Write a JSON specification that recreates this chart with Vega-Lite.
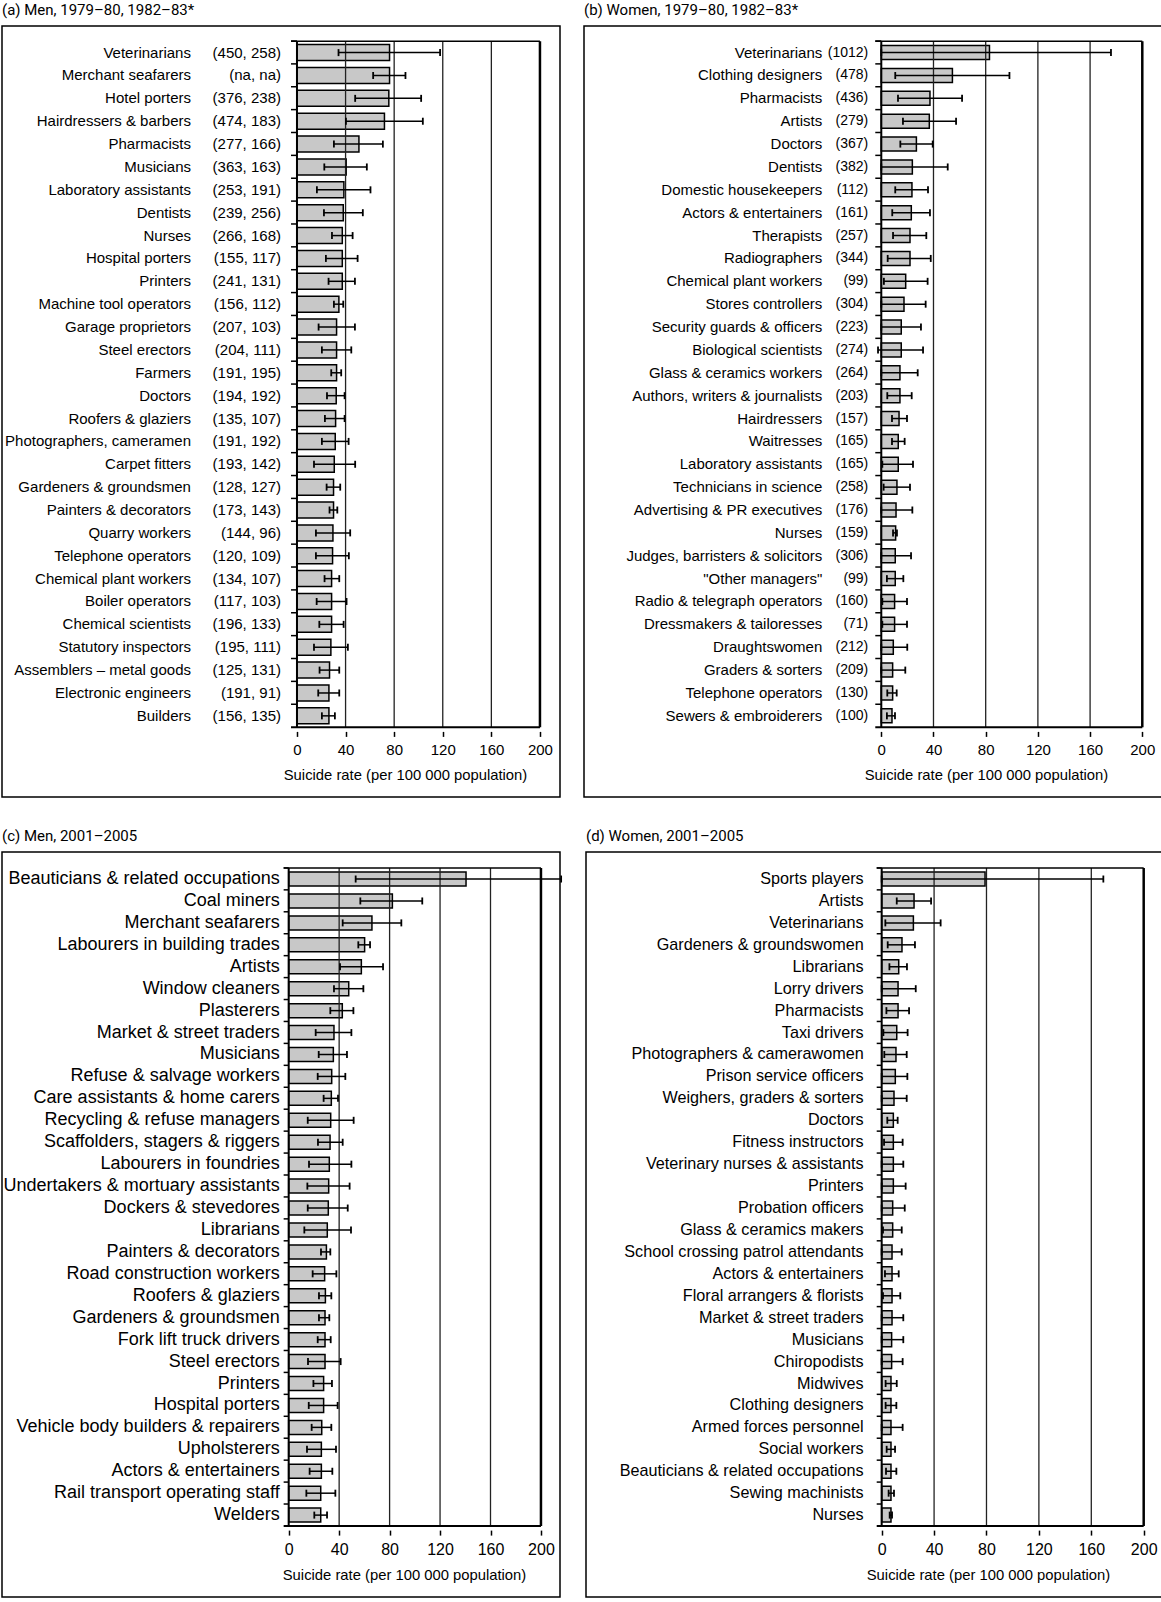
{
"$schema": "https://vega.github.io/schema/vega-lite/v6.json",
"padding": {"left": 1, "top": 2, "right": 0, "bottom": 0},
"background": "white",
"config": {
  "view": {"stroke": "black", "strokeWidth": 1.5},
  "font": "Liberation Sans",
  "title": {"font": "Roboto", "fontSize": 15, "fontWeight": "normal", "anchor": "start", "offset": 8, "color": "black"},
  "axis": {"domain": false, "grid": false, "tickColor": "black", "tickWidth": 1.5, "tickSize": 5, "labelColor": "black", "labelFont": "Liberation Sans", "labelPadding": 6, "labelFlush": false, "labelOverlap": false, "titleColor": "black", "titleFont": "Liberation Sans", "titleFontWeight": "normal", "titlePadding": 10, "titleAlign": "center", "zindex": 1}
},
"datasets": {
"a": [
{"rank":1,"name":"Veterinarians","n":"(450, 258)","v":76.2,"lo":34.2,"hi":117.8},
{"rank":2,"name":"Merchant seafarers","n":"(na, na)","v":76.2,"lo":62.7,"hi":89.3},
{"rank":3,"name":"Hotel porters","n":"(376, 238)","v":75.6,"lo":47.9,"hi":102.2},
{"rank":4,"name":"Hairdressers & barbers","n":"(474, 183)","v":72.0,"lo":40.3,"hi":103.6},
{"rank":5,"name":"Pharmacists","n":"(277, 166)","v":51.0,"lo":30.4,"hi":70.7},
{"rank":6,"name":"Musicians","n":"(363, 163)","v":40.5,"lo":22.5,"hi":57.5},
{"rank":7,"name":"Laboratory assistants","n":"(253, 191)","v":38.6,"lo":16.4,"hi":60.5},
{"rank":8,"name":"Dentists","n":"(239, 256)","v":38.1,"lo":22.2,"hi":54.2},
{"rank":9,"name":"Nurses","n":"(266, 168)","v":37.3,"lo":28.8,"hi":45.8},
{"rank":10,"name":"Hospital porters","n":"(155, 117)","v":37.3,"lo":23.8,"hi":49.9},
{"rank":11,"name":"Printers","n":"(241, 131)","v":37.3,"lo":26.0,"hi":47.7},
{"rank":12,"name":"Machine tool operators","n":"(156, 112)","v":34.5,"lo":30.4,"hi":38.1},
{"rank":13,"name":"Garage proprietors","n":"(207, 103)","v":32.6,"lo":17.8,"hi":47.7},
{"rank":14,"name":"Steel erectors","n":"(204, 111)","v":32.6,"lo":20.5,"hi":44.7},
{"rank":15,"name":"Farmers","n":"(191, 195)","v":32.6,"lo":28.2,"hi":36.4},
{"rank":16,"name":"Doctors","n":"(194, 192)","v":32.3,"lo":24.7,"hi":39.2},
{"rank":17,"name":"Roofers & glaziers","n":"(135, 107)","v":31.8,"lo":23.0,"hi":39.2},
{"rank":18,"name":"Photographers, cameramen","n":"(191, 192)","v":31.5,"lo":20.5,"hi":42.5},
{"rank":19,"name":"Carpet fitters","n":"(193, 142)","v":30.7,"lo":14.0,"hi":47.9},
{"rank":20,"name":"Gardeners & groundsmen","n":"(128, 127)","v":30.1,"lo":24.4,"hi":35.6},
{"rank":21,"name":"Painters & decorators","n":"(173, 143)","v":30.1,"lo":26.8,"hi":33.2},
{"rank":22,"name":"Quarry workers","n":"(144, 96)","v":29.6,"lo":15.6,"hi":43.8},
{"rank":23,"name":"Telephone operators","n":"(120, 109)","v":29.3,"lo":15.6,"hi":42.7},
{"rank":24,"name":"Chemical plant workers","n":"(134, 107)","v":28.5,"lo":22.7,"hi":34.8},
{"rank":25,"name":"Boiler operators","n":"(117, 103)","v":28.5,"lo":16.2,"hi":40.8},
{"rank":26,"name":"Chemical scientists","n":"(196, 133)","v":28.5,"lo":18.4,"hi":38.4},
{"rank":27,"name":"Statutory inspectors","n":"(195, 111)","v":27.9,"lo":14.0,"hi":41.9},
{"rank":28,"name":"Assemblers – metal goods","n":"(125, 131)","v":26.8,"lo":18.6,"hi":34.8},
{"rank":29,"name":"Electronic engineers","n":"(191, 91)","v":26.3,"lo":17.5,"hi":34.8},
{"rank":30,"name":"Builders","n":"(156, 135)","v":26.3,"lo":20.5,"hi":31.2}
],
"b": [
{"rank":1,"name":"Veterinarians","n":"(1012)","v":82.9,"lo":0,"hi":176.0},
{"rank":2,"name":"Clothing designers","n":"(478)","v":54.5,"lo":10.7,"hi":98.2},
{"rank":3,"name":"Pharmacists","n":"(436)","v":37.3,"lo":12.8,"hi":61.9},
{"rank":4,"name":"Artists","n":"(279)","v":36.8,"lo":16.6,"hi":57.3},
{"rank":5,"name":"Doctors","n":"(367)","v":26.9,"lo":14.6,"hi":39.4},
{"rank":6,"name":"Dentists","n":"(382)","v":23.8,"lo":0,"hi":50.9},
{"rank":7,"name":"Domestic housekeepers","n":"(112)","v":23.5,"lo":10.7,"hi":35.8},
{"rank":8,"name":"Actors & entertainers","n":"(161)","v":23.0,"lo":8.4,"hi":37.3},
{"rank":9,"name":"Therapists","n":"(257)","v":22.0,"lo":9.0,"hi":34.5},
{"rank":10,"name":"Radiographers","n":"(344)","v":22.0,"lo":4.9,"hi":37.9},
{"rank":11,"name":"Chemical plant workers","n":"(99)","v":18.7,"lo":2.0,"hi":35.5},
{"rank":12,"name":"Stores controllers","n":"(304)","v":17.4,"lo":0,"hi":34.0},
{"rank":13,"name":"Security guards & officers","n":"(223)","v":15.3,"lo":0,"hi":30.4},
{"rank":14,"name":"Biological scientists","n":"(274)","v":15.3,"lo":-2.5,"hi":32.0},
{"rank":15,"name":"Glass & ceramics workers","n":"(264)","v":14.3,"lo":0,"hi":27.9},
{"rank":16,"name":"Authors, writers & journalists","n":"(203)","v":14.3,"lo":4.6,"hi":23.3},
{"rank":17,"name":"Hairdressers","n":"(157)","v":13.6,"lo":8.2,"hi":19.7},
{"rank":18,"name":"Waitresses","n":"(165)","v":13.0,"lo":8.2,"hi":17.9},
{"rank":19,"name":"Laboratory assistants","n":"(165)","v":13.0,"lo":0.8,"hi":24.3},
{"rank":20,"name":"Technicians in science","n":"(258)","v":12.0,"lo":1.8,"hi":22.0},
{"rank":21,"name":"Advertising & PR executives","n":"(176)","v":11.3,"lo":0,"hi":23.8},
{"rank":22,"name":"Nurses","n":"(159)","v":11.0,"lo":9.0,"hi":12.0},
{"rank":23,"name":"Judges, barristers & solicitors","n":"(306)","v":10.7,"lo":0,"hi":22.8},
{"rank":24,"name":"\"Other managers\"","n":"(99)","v":10.7,"lo":4.3,"hi":16.9},
{"rank":25,"name":"Radio & telegraph operators","n":"(160)","v":10.2,"lo":0.8,"hi":19.7},
{"rank":26,"name":"Dressmakers & tailoresses","n":"(71)","v":10.2,"lo":0.8,"hi":19.7},
{"rank":27,"name":"Draughtswomen","n":"(212)","v":9.2,"lo":0,"hi":19.9},
{"rank":28,"name":"Graders & sorters","n":"(209)","v":8.7,"lo":0,"hi":18.4},
{"rank":29,"name":"Telephone operators","n":"(130)","v":8.7,"lo":4.6,"hi":11.8},
{"rank":30,"name":"Sewers & embroiderers","n":"(100)","v":8.2,"lo":4.3,"hi":10.5}
],
"c": [
{"rank":1,"name":"Beauticians & related occupations","v":140.6,"lo":53.1,"hi":216},
{"rank":2,"name":"Coal miners","v":82.2,"lo":56.8,"hi":105.9},
{"rank":3,"name":"Merchant seafarers","v":66.0,"lo":42.8,"hi":89.3},
{"rank":4,"name":"Labourers in building trades","v":60.2,"lo":55.2,"hi":64.5},
{"rank":5,"name":"Artists","v":57.6,"lo":40.7,"hi":74.8},
{"rank":6,"name":"Window cleaners","v":47.6,"lo":35.9,"hi":59.2},
{"rank":7,"name":"Plasterers","v":42.5,"lo":33.0,"hi":51.3},
{"rank":8,"name":"Market & street traders","v":35.9,"lo":21.4,"hi":49.7},
{"rank":9,"name":"Musicians","v":35.4,"lo":23.8,"hi":46.2},
{"rank":10,"name":"Refuse & salvage workers","v":34.1,"lo":23.0,"hi":44.9},
{"rank":11,"name":"Care assistants & home carers","v":33.8,"lo":27.7,"hi":39.1},
{"rank":12,"name":"Recycling & refuse managers","v":33.3,"lo":15.1,"hi":51.5},
{"rank":13,"name":"Scaffolders, stagers & riggers","v":32.8,"lo":23.2,"hi":42.8},
{"rank":14,"name":"Labourers in foundries","v":32.2,"lo":16.1,"hi":49.7},
{"rank":15,"name":"Undertakers & mortuary assistants","v":31.7,"lo":14.8,"hi":48.3},
{"rank":16,"name":"Dockers & stevedores","v":31.4,"lo":15.1,"hi":46.8},
{"rank":17,"name":"Librarians","v":30.6,"lo":12.4,"hi":49.4},
{"rank":18,"name":"Painters & decorators","v":29.9,"lo":25.6,"hi":33.0},
{"rank":19,"name":"Road construction workers","v":28.5,"lo":19.0,"hi":37.8},
{"rank":20,"name":"Roofers & glaziers","v":29.1,"lo":24.0,"hi":33.8},
{"rank":21,"name":"Gardeners & groundsmen","v":28.8,"lo":24.0,"hi":32.2},
{"rank":22,"name":"Fork lift truck drivers","v":28.8,"lo":23.0,"hi":33.3},
{"rank":23,"name":"Steel erectors","v":28.8,"lo":15.3,"hi":41.2},
{"rank":24,"name":"Printers","v":27.7,"lo":19.6,"hi":34.3},
{"rank":25,"name":"Hospital porters","v":27.7,"lo":15.9,"hi":38.8},
{"rank":26,"name":"Vehicle body builders & repairers","v":26.2,"lo":18.2,"hi":33.8},
{"rank":27,"name":"Upholsterers","v":25.9,"lo":14.5,"hi":37.5},
{"rank":28,"name":"Actors & entertainers","v":25.9,"lo":16.6,"hi":34.6},
{"rank":29,"name":"Rail transport operating staff","v":25.4,"lo":14.0,"hi":37.0},
{"rank":30,"name":"Welders","v":25.4,"lo":20.3,"hi":30.4}
],
"d": [
{"rank":1,"name":"Sports players","v":78.9,"lo":0,"hi":169.2},
{"rank":2,"name":"Artists","v":24.7,"lo":11.5,"hi":37.7},
{"rank":3,"name":"Veterinarians","v":24.2,"lo":2.8,"hi":45.0},
{"rank":4,"name":"Gardeners & groundswomen","v":15.5,"lo":4.6,"hi":25.4},
{"rank":5,"name":"Librarians","v":13.0,"lo":5.9,"hi":19.3},
{"rank":6,"name":"Lorry drivers","v":12.5,"lo":0,"hi":26.0},
{"rank":7,"name":"Pharmacists","v":12.5,"lo":3.6,"hi":20.9},
{"rank":8,"name":"Taxi drivers","v":11.5,"lo":1.3,"hi":19.8},
{"rank":9,"name":"Photographers & camerawomen","v":10.9,"lo":2.0,"hi":19.1},
{"rank":10,"name":"Prison service officers","v":10.4,"lo":0,"hi":19.6},
{"rank":11,"name":"Weighers, graders & sorters","v":9.4,"lo":0,"hi":19.1},
{"rank":12,"name":"Doctors","v":8.9,"lo":4.3,"hi":12.2},
{"rank":13,"name":"Fitness instructors","v":8.9,"lo":1.8,"hi":16.0},
{"rank":14,"name":"Veterinary nurses & assistants","v":8.9,"lo":0,"hi":16.5},
{"rank":15,"name":"Printers","v":8.9,"lo":0,"hi":18.3},
{"rank":16,"name":"Probation officers","v":8.4,"lo":0,"hi":17.6},
{"rank":17,"name":"Glass & ceramics makers","v":8.4,"lo":1.0,"hi":15.3},
{"rank":18,"name":"School crossing patrol attendants","v":7.9,"lo":0,"hi":15.3},
{"rank":19,"name":"Actors & entertainers","v":7.9,"lo":2.5,"hi":13.0},
{"rank":20,"name":"Floral arrangers & florists","v":7.9,"lo":1.0,"hi":14.2},
{"rank":21,"name":"Market & street traders","v":7.9,"lo":0,"hi":16.5},
{"rank":22,"name":"Musicians","v":7.6,"lo":0,"hi":16.5},
{"rank":23,"name":"Chiropodists","v":7.6,"lo":0,"hi":16.0},
{"rank":24,"name":"Midwives","v":7.1,"lo":3.0,"hi":11.5},
{"rank":25,"name":"Clothing designers","v":7.1,"lo":3.0,"hi":11.2},
{"rank":26,"name":"Armed forces personnel","v":7.1,"lo":0,"hi":16.0},
{"rank":27,"name":"Social workers","v":7.1,"lo":3.8,"hi":10.2},
{"rank":28,"name":"Beauticians & related occupations","v":7.1,"lo":3.3,"hi":11.2},
{"rank":29,"name":"Sewing machinists","v":7.1,"lo":5.3,"hi":9.4},
{"rank":30,"name":"Nurses","v":7.1,"lo":6.1,"hi":7.9}
],
"grid": [{"g":40},{"g":80},{"g":120},{"g":160}],
"one": [{"k":1}]
},
"spacing": 30,
"vconcat": [
{"spacing": 22, "hconcat": [
{
"width": 558, "height": 771,
"title": {"text": "(a) Men, 1979–80, 1982–83*"},
"data": {"name": "a"},
"layer": [
{"mark": {"type": "bar", "orient": "horizontal", "size": 16, "fill": "#c8c8c8", "stroke": "black", "strokeWidth": 1.5},
 "encoding": {
  "x": {"field": "v", "type": "quantitative", "scale": {"domain": [-242.8, 216.5], "nice": false, "zero": false},
        "axis": {"values": [0,40,80,120,160,200], "offset": -65.6, "labelFontSize": 15, "title": "Suicide rate (per 100 000 population)", "titleFontSize": 14.8, "titleX": 403}},
  "x2": {"datum": 0},
  "y": {"field": "rank", "type": "quantitative", "scale": {"domain": [0.055, 33.33], "reverse": true, "nice": false, "zero": false}, "axis": null}}},
{"data": {"name": "grid"}, "mark": {"type": "rule", "stroke": "#222", "strokeWidth": 1.3}, "encoding": {"x": {"field": "g", "type": "quantitative"}, "y": {"datum": 0.5, "type": "quantitative", "axis": null}, "y2": {"datum": 30.5}}},
{"mark": {"type": "rule", "stroke": "black", "strokeWidth": 1.5}, "encoding": {"x": {"field": "lo", "type": "quantitative"}, "x2": {"field": "hi"}, "y": {"field": "rank", "type": "quantitative", "axis": null}}},
{"mark": {"type": "tick", "orient": "vertical", "size": 7, "thickness": 1.8, "color": "black", "opacity": 1}, "encoding": {"x": {"field": "lo", "type": "quantitative"}, "y": {"field": "rank", "type": "quantitative", "axis": null}}},
{"mark": {"type": "tick", "orient": "vertical", "size": 7, "thickness": 1.8, "color": "black", "opacity": 1}, "encoding": {"x": {"field": "hi", "type": "quantitative"}, "y": {"field": "rank", "type": "quantitative", "axis": null}}},
{"mark": {"type": "rule", "stroke": "black", "strokeWidth": 1.5, "yOffset": -11.6}, "encoding": {"x": {"datum": -4.9, "type": "quantitative"}, "x2": {"datum": 0}, "y": {"field": "rank", "type": "quantitative", "axis": null}}},
{"data": {"name": "one"}, "mark": {"type": "rule", "stroke": "black", "strokeWidth": 1.5}, "encoding": {"x": {"datum": -4.9, "type": "quantitative"}, "x2": {"datum": 200}, "y": {"datum": 0.5, "type": "quantitative", "axis": null}}},
{"data": {"name": "one"}, "mark": {"type": "rule", "stroke": "black", "strokeWidth": 2}, "encoding": {"x": {"datum": -4.9, "type": "quantitative"}, "x2": {"datum": 200}, "y": {"datum": 30.5, "type": "quantitative", "axis": null}}},
{"data": {"name": "one"}, "mark": {"type": "rule", "stroke": "black", "strokeWidth": 2}, "encoding": {"x": {"datum": 0, "type": "quantitative"}, "y": {"datum": 0.5, "type": "quantitative", "axis": null}, "y2": {"datum": 30.5}}},
{"data": {"name": "one"}, "mark": {"type": "rule", "stroke": "black", "strokeWidth": 2.5}, "encoding": {"x": {"datum": 200, "type": "quantitative"}, "y": {"datum": 0.5, "type": "quantitative", "axis": null}, "y2": {"datum": 30.5}}},
{"mark": {"type": "text", "align": "right", "baseline": "middle", "dx": -106, "fontSize": 15, "color": "black"}, "encoding": {"x": {"datum": 0, "type": "quantitative"}, "y": {"field": "rank", "type": "quantitative", "axis": null}, "text": {"field": "name"}}},
{"mark": {"type": "text", "align": "right", "baseline": "middle", "dx": -16, "fontSize": 15, "color": "black"}, "encoding": {"x": {"datum": 0, "type": "quantitative"}, "y": {"field": "rank", "type": "quantitative", "axis": null}, "text": {"field": "n"}}}
]
},
{
"width": 578, "height": 771,
"title": {"text": "(b)  Women, 1979–80, 1982–83*"},
"data": {"name": "b"},
"layer": [
{"mark": {"type": "bar", "orient": "horizontal", "size": 14, "fill": "#c8c8c8", "stroke": "black", "strokeWidth": 1.5},
 "encoding": {
  "x": {"field": "v", "type": "quantitative", "scale": {"domain": [-227.8, 215.1], "nice": false, "zero": false},
        "axis": {"values": [0,40,80,120,160,200], "offset": -65.6, "labelFontSize": 15, "title": "Suicide rate (per 100 000 population)", "titleFontSize": 14.8, "titleX": 402}},
  "x2": {"datum": 0},
  "y": {"field": "rank", "type": "quantitative", "scale": {"domain": [0.055, 33.33], "reverse": true, "nice": false, "zero": false}, "axis": null}}},
{"data": {"name": "grid"}, "mark": {"type": "rule", "stroke": "#222", "strokeWidth": 1.3}, "encoding": {"x": {"field": "g", "type": "quantitative"}, "y": {"datum": 0.5, "type": "quantitative", "axis": null}, "y2": {"datum": 30.5}}},
{"mark": {"type": "rule", "stroke": "black", "strokeWidth": 1.5}, "encoding": {"x": {"field": "lo", "type": "quantitative"}, "x2": {"field": "hi"}, "y": {"field": "rank", "type": "quantitative", "axis": null}}},
{"mark": {"type": "tick", "orient": "vertical", "size": 7, "thickness": 1.8, "color": "black", "opacity": 1}, "encoding": {"x": {"field": "lo", "type": "quantitative"}, "y": {"field": "rank", "type": "quantitative", "axis": null}}},
{"mark": {"type": "tick", "orient": "vertical", "size": 7, "thickness": 1.8, "color": "black", "opacity": 1}, "encoding": {"x": {"field": "hi", "type": "quantitative"}, "y": {"field": "rank", "type": "quantitative", "axis": null}}},
{"mark": {"type": "rule", "stroke": "black", "strokeWidth": 1.5, "yOffset": -11.6}, "encoding": {"x": {"datum": -4.6, "type": "quantitative"}, "x2": {"datum": 0}, "y": {"field": "rank", "type": "quantitative", "axis": null}}},
{"data": {"name": "one"}, "mark": {"type": "rule", "stroke": "black", "strokeWidth": 1.5}, "encoding": {"x": {"datum": -4.6, "type": "quantitative"}, "x2": {"datum": 200}, "y": {"datum": 0.5, "type": "quantitative", "axis": null}}},
{"data": {"name": "one"}, "mark": {"type": "rule", "stroke": "black", "strokeWidth": 2}, "encoding": {"x": {"datum": -4.6, "type": "quantitative"}, "x2": {"datum": 200}, "y": {"datum": 30.5, "type": "quantitative", "axis": null}}},
{"data": {"name": "one"}, "mark": {"type": "rule", "stroke": "black", "strokeWidth": 2}, "encoding": {"x": {"datum": 0, "type": "quantitative"}, "y": {"datum": 0.5, "type": "quantitative", "axis": null}, "y2": {"datum": 30.5}}},
{"data": {"name": "one"}, "mark": {"type": "rule", "stroke": "black", "strokeWidth": 2.5}, "encoding": {"x": {"datum": 200, "type": "quantitative"}, "y": {"datum": 0.5, "type": "quantitative", "axis": null}, "y2": {"datum": 30.5}}},
{"mark": {"type": "text", "align": "right", "baseline": "middle", "dx": -59, "fontSize": 15, "color": "black"}, "encoding": {"x": {"datum": 0, "type": "quantitative"}, "y": {"field": "rank", "type": "quantitative", "axis": null}, "text": {"field": "name"}}},
{"mark": {"type": "text", "align": "right", "baseline": "middle", "dx": -13, "fontSize": 14, "color": "black"}, "encoding": {"x": {"datum": 0, "type": "quantitative"}, "y": {"field": "rank", "type": "quantitative", "axis": null}, "text": {"field": "n"}}}
]
}
]},
{"spacing": 22, "hconcat": [
{
"width": 558, "height": 745,
"title": {"text": "(c) Men, 2001–2005"},
"data": {"name": "c"},
"layer": [
{"mark": {"type": "bar", "orient": "horizontal", "size": 14, "fill": "#c8c8c8", "stroke": "black", "strokeWidth": 1.5},
 "encoding": {
  "x": {"field": "v", "type": "quantitative", "scale": {"domain": [-227.3, 215.1], "nice": false, "zero": false},
        "axis": {"values": [0,40,80,120,160,200], "offset": -66.9, "labelFontSize": 16, "title": "Suicide rate (per 100 000 population)", "titleFontSize": 14.8, "titleX": 402}},
  "x2": {"datum": 0},
  "y": {"field": "rank", "type": "quantitative", "scale": {"domain": [-0.004, 33.505], "reverse": true, "nice": false, "zero": false}, "axis": null}}},
{"data": {"name": "grid"}, "mark": {"type": "rule", "stroke": "#222", "strokeWidth": 1.3}, "encoding": {"x": {"field": "g", "type": "quantitative"}, "y": {"datum": 0.5, "type": "quantitative", "axis": null}, "y2": {"datum": 30.5}}},
{"mark": {"type": "rule", "stroke": "black", "strokeWidth": 1.5}, "encoding": {"x": {"field": "lo", "type": "quantitative"}, "x2": {"field": "hi"}, "y": {"field": "rank", "type": "quantitative", "axis": null}}},
{"mark": {"type": "tick", "orient": "vertical", "size": 7, "thickness": 1.8, "color": "black", "opacity": 1}, "encoding": {"x": {"field": "lo", "type": "quantitative"}, "y": {"field": "rank", "type": "quantitative", "axis": null}}},
{"mark": {"type": "tick", "orient": "vertical", "size": 7, "thickness": 1.8, "color": "black", "opacity": 1}, "encoding": {"x": {"field": "hi", "type": "quantitative"}, "y": {"field": "rank", "type": "quantitative", "axis": null}}},
{"mark": {"type": "rule", "stroke": "black", "strokeWidth": 1.5, "yOffset": -11.1}, "encoding": {"x": {"datum": -4, "type": "quantitative"}, "x2": {"datum": 0}, "y": {"field": "rank", "type": "quantitative", "axis": null}}},
{"data": {"name": "one"}, "mark": {"type": "rule", "stroke": "black", "strokeWidth": 1.5}, "encoding": {"x": {"datum": -4, "type": "quantitative"}, "x2": {"datum": 200}, "y": {"datum": 0.5, "type": "quantitative", "axis": null}}},
{"data": {"name": "one"}, "mark": {"type": "rule", "stroke": "black", "strokeWidth": 2}, "encoding": {"x": {"datum": -4, "type": "quantitative"}, "x2": {"datum": 200}, "y": {"datum": 30.5, "type": "quantitative", "axis": null}}},
{"data": {"name": "one"}, "mark": {"type": "rule", "stroke": "black", "strokeWidth": 2}, "encoding": {"x": {"datum": 0, "type": "quantitative"}, "y": {"datum": 0.5, "type": "quantitative", "axis": null}, "y2": {"datum": 30.5}}},
{"data": {"name": "one"}, "mark": {"type": "rule", "stroke": "black", "strokeWidth": 2.5}, "encoding": {"x": {"datum": 200, "type": "quantitative"}, "y": {"datum": 0.5, "type": "quantitative", "axis": null}, "y2": {"datum": 30.5}}},
{"mark": {"type": "text", "align": "right", "baseline": "middle", "dx": -9, "fontSize": 18, "color": "black"}, "encoding": {"x": {"datum": 0, "type": "quantitative"}, "y": {"field": "rank", "type": "quantitative", "axis": null}, "text": {"field": "name"}}}
]
},
{
"width": 578, "height": 745,
"title": {"text": "(d)  Women, 2001–2005"},
"data": {"name": "d"},
"layer": [
{"mark": {"type": "bar", "orient": "horizontal", "size": 14, "fill": "#c8c8c8", "stroke": "black", "strokeWidth": 1.5},
 "encoding": {
  "x": {"field": "v", "type": "quantitative", "scale": {"domain": [-225.7, 215.5], "nice": false, "zero": false},
        "axis": {"values": [0,40,80,120,160,200], "offset": -66.9, "labelFontSize": 16, "title": "Suicide rate (per 100 000 population)", "titleFontSize": 14.8, "titleX": 402}},
  "x2": {"datum": 0},
  "y": {"field": "rank", "type": "quantitative", "scale": {"domain": [-0.004, 33.505], "reverse": true, "nice": false, "zero": false}, "axis": null}}},
{"data": {"name": "grid"}, "mark": {"type": "rule", "stroke": "#222", "strokeWidth": 1.3}, "encoding": {"x": {"field": "g", "type": "quantitative"}, "y": {"datum": 0.5, "type": "quantitative", "axis": null}, "y2": {"datum": 30.5}}},
{"mark": {"type": "rule", "stroke": "black", "strokeWidth": 1.5}, "encoding": {"x": {"field": "lo", "type": "quantitative"}, "x2": {"field": "hi"}, "y": {"field": "rank", "type": "quantitative", "axis": null}}},
{"mark": {"type": "tick", "orient": "vertical", "size": 7, "thickness": 1.8, "color": "black", "opacity": 1}, "encoding": {"x": {"field": "lo", "type": "quantitative"}, "y": {"field": "rank", "type": "quantitative", "axis": null}}},
{"mark": {"type": "tick", "orient": "vertical", "size": 7, "thickness": 1.8, "color": "black", "opacity": 1}, "encoding": {"x": {"field": "hi", "type": "quantitative"}, "y": {"field": "rank", "type": "quantitative", "axis": null}}},
{"mark": {"type": "rule", "stroke": "black", "strokeWidth": 1.5, "yOffset": -11.1}, "encoding": {"x": {"datum": -3.8, "type": "quantitative"}, "x2": {"datum": 0}, "y": {"field": "rank", "type": "quantitative", "axis": null}}},
{"data": {"name": "one"}, "mark": {"type": "rule", "stroke": "black", "strokeWidth": 1.5}, "encoding": {"x": {"datum": -3.8, "type": "quantitative"}, "x2": {"datum": 200}, "y": {"datum": 0.5, "type": "quantitative", "axis": null}}},
{"data": {"name": "one"}, "mark": {"type": "rule", "stroke": "black", "strokeWidth": 2}, "encoding": {"x": {"datum": -3.8, "type": "quantitative"}, "x2": {"datum": 200}, "y": {"datum": 30.5, "type": "quantitative", "axis": null}}},
{"data": {"name": "one"}, "mark": {"type": "rule", "stroke": "black", "strokeWidth": 2}, "encoding": {"x": {"datum": 0, "type": "quantitative"}, "y": {"datum": 0.5, "type": "quantitative", "axis": null}, "y2": {"datum": 30.5}}},
{"data": {"name": "one"}, "mark": {"type": "rule", "stroke": "black", "strokeWidth": 2.5}, "encoding": {"x": {"datum": 200, "type": "quantitative"}, "y": {"datum": 0.5, "type": "quantitative", "axis": null}, "y2": {"datum": 30.5}}},
{"mark": {"type": "text", "align": "right", "baseline": "middle", "dx": -18, "fontSize": 16.2, "color": "black"}, "encoding": {"x": {"datum": 0, "type": "quantitative"}, "y": {"field": "rank", "type": "quantitative", "axis": null}, "text": {"field": "name"}}}
]
}
]}
]
}
